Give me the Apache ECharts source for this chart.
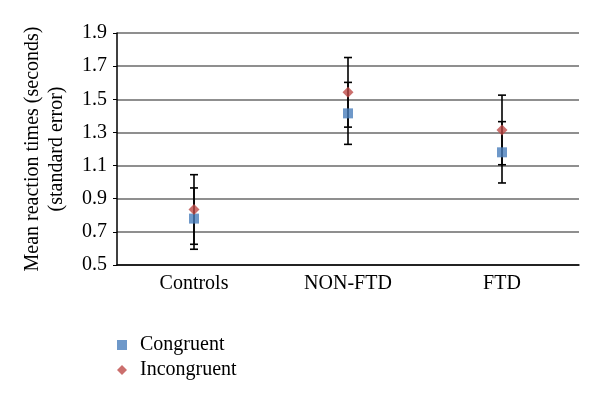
<!DOCTYPE html>
<html>
<head>
<meta charset="utf-8">
<script src="https://cdn.jsdelivr.net/npm/echarts@6/dist/echarts.min.js"></script>
<style>html,body{margin:0;padding:0;background:#fff}#c{width:600px;height:401px}</style>
</head>
<body>
<div id="c"></div>
<script>
var categories = ['Controls', 'NON-FTD', 'FTD'];
var congruent = [0.78, 1.415, 1.18];
var congruentErr = [0.185, 0.187, 0.185];
var incongruent = [0.835, 1.542, 1.315];
var incongruentErr = [0.21, 0.21, 0.21];
var yTicks = [0.5, 0.7, 0.9, 1.1, 1.3, 1.5, 1.7, 1.9];

var FONT = '"Liberation Serif", "DejaVu Serif", serif';
var errData = [];
for (var i = 0; i < categories.length; i++) {
  errData.push([i, congruent[i] - congruentErr[i], congruent[i] + congruentErr[i]]);
  errData.push([i, incongruent[i] - incongruentErr[i], incongruent[i] + incongruentErr[i]]);
}

function renderErr(params, api) {
  var x = api.value(0);
  var lo = api.coord([x, api.value(1)]);
  var hi = api.coord([x, api.value(2)]);
  var hw = 4;
  var st = { stroke: '#000', lineWidth: 1.6 };
  return {
    type: 'group',
    children: [
      { type: 'line', shape: { x1: lo[0], y1: lo[1], x2: hi[0], y2: hi[1] }, style: st },
      { type: 'line', shape: { x1: lo[0] - hw, y1: lo[1], x2: lo[0] + hw, y2: lo[1] }, style: st },
      { type: 'line', shape: { x1: hi[0] - hw, y1: hi[1], x2: hi[0] + hw, y2: hi[1] }, style: st }
    ]
  };
}

var chart = echarts.init(document.getElementById('c'), null, { renderer: 'canvas' });
chart.setOption({
  animation: false,
  textStyle: { fontFamily: FONT },
  grid: { left: 117, right: 21, top: 33, bottom: 136, containLabel: false },
  legend: {
    orient: 'vertical',
    left: 112,
    top: 330,
    itemWidth: 10,
    itemHeight: 10,
    itemGap: 5,
    textStyle: { fontFamily: FONT, fontSize: 20, color: '#000', padding: [0, 0, 0, 8] },
    data: [
      { name: 'Congruent', icon: 'rect' },
      { name: 'Incongruent', icon: 'diamond' }
    ]
  },
  xAxis: {
    type: 'category',
    data: categories,
    boundaryGap: true,
    axisLine: { lineStyle: { color: '#000', width: 1.5 } },
    axisTick: { show: false },
    axisLabel: { fontFamily: FONT, fontSize: 20, color: '#000', margin: 9 },
    splitLine: { show: false }
  },
  yAxis: {
    type: 'value',
    min: 0.5,
    max: 1.9,
    interval: 0.2,
    name: 'Mean reaction times (seconds)\n(standard error)',
    nameLocation: 'middle',
    nameRotate: 90,
    nameGap: 48,
    nameTextStyle: { fontFamily: FONT, fontSize: 20, color: '#000', lineHeight: 24 },
    axisLine: { show: true, lineStyle: { color: '#000', width: 1.5 } },
    axisTick: { show: true, length: 4, lineStyle: { color: '#000' } },
    axisLabel: {
      fontFamily: FONT, fontSize: 20, color: '#000', margin: 10,
      formatter: function (v) { return v.toFixed(1); }
    },
    splitLine: { lineStyle: { color: '#6a6a6a', width: 1.5 } }
  },
  series: [
    {
      name: 'errors',
      type: 'custom',
      renderItem: renderErr,
      data: errData,
      encode: { x: 0, y: [1, 2] },
      z: 2,
      silent: true
    },
    {
      name: 'Congruent',
      type: 'scatter',
      data: congruent,
      symbol: 'rect',
      symbolSize: 10,
      itemStyle: { color: '#4a7ebb' },
      z: 3
    },
    {
      name: 'Incongruent',
      type: 'scatter',
      data: incongruent,
      symbol: 'diamond',
      symbolSize: [11, 11],
      itemStyle: { color: '#be4b48' },
      z: 4
    }
  ]
});
</script>
</body>
</html>
